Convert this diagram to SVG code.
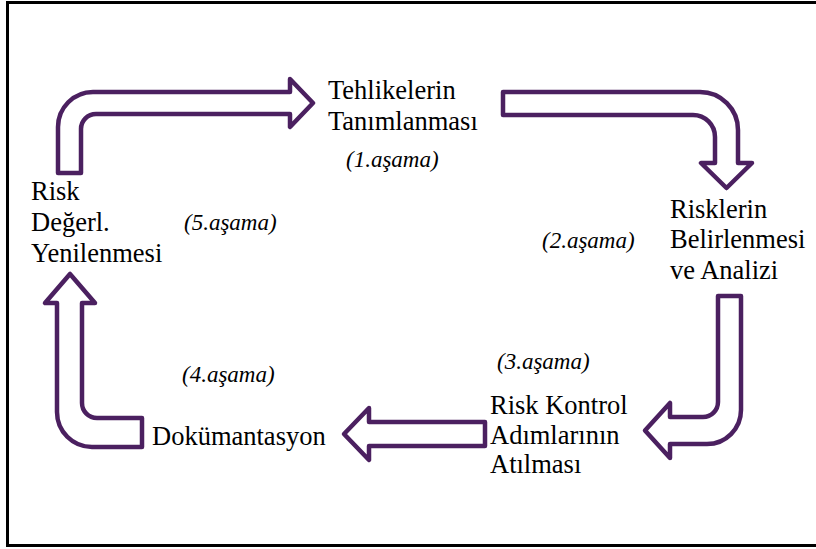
<svg xmlns="http://www.w3.org/2000/svg" width="816" height="549" viewBox="0 0 816 549">
<style>
.t{font-family:"Liberation Serif","DejaVu Serif",serif;font-size:26.5px;fill:#000}
.s{font-family:"Liberation Serif","DejaVu Serif",serif;font-size:23px;font-style:italic;fill:#000}
.a{fill:#fff;stroke:#4b2060;stroke-width:4.5;stroke-linejoin:round}
</style>
<rect x="0" y="0" width="816" height="549" fill="#fff"/>
<rect x="7.5" y="2.5" width="812" height="543" fill="none" stroke="#000" stroke-width="3"/>
<g id="connectors">
<path class="a" d="M58,173 L58,127 A35,35 0 0 1 93,92 L290,92 L290,79 L313,103 L290,127 L290,114 L96,114 A15,15 0 0 0 81,129 L81,173 Z"/>
<path class="a" d="M503,92 L700,92 A38,38 0 0 1 738,130 L738,163 L752,163 L726.5,188 L701,163 L715,163 L715,137 A22,22 0 0 0 693,115 L503,115 Z"/>
<path class="a" d="M718,296 L741,296 L741,410 A34,34 0 0 1 707,444 L670,444 L670,458 L645,430.5 L670,403 L670,417 L703,417 A15,15 0 0 0 718,402 Z"/>
<path class="a" d="M485,422 L369,422 L369,408 L344,434 L369,460 L369,446 L485,446 Z"/>
<path class="a" d="M142,418 L97,418 A15,15 0 0 1 82,403 L82,303 L95,303 L70,274 L45,303 L57,303 L57,412 A35,35 0 0 0 92,447 L142,447 Z"/>
</g>
<g id="n1"><text class="t" x="328" y="99">Tehlikelerin</text><text class="t" x="328" y="130">Tanımlanması</text></g>
<g id="l1"><text class="s" x="346" y="167">(1.aşama)</text></g>
<g id="n2"><text class="t" x="670" y="218">Risklerin</text><text class="t" x="670" y="248">Belirlenmesi</text><text class="t" x="670" y="279">ve Analizi</text></g>
<g id="l2"><text class="s" x="542" y="248">(2.aşama)</text></g>
<g id="l3"><text class="s" x="497" y="369">(3.aşama)</text></g>
<g id="n3"><text class="t" x="490" y="414">Risk Kontrol</text><text class="t" x="490" y="444">Adımlarının</text><text class="t" x="490" y="473">Atılması</text></g>
<g id="n4"><text class="t" x="152" y="445">Dokümantasyon</text></g>
<g id="l4"><text class="s" x="182" y="382">(4.aşama)</text></g>
<g id="n5"><text class="t" x="31" y="200">Risk</text><text class="t" x="31" y="231">Değerl.</text><text class="t" x="31" y="262">Yenilenmesi</text></g>
<g id="l5"><text class="s" x="184" y="230">(5.aşama)</text></g>
</svg>
